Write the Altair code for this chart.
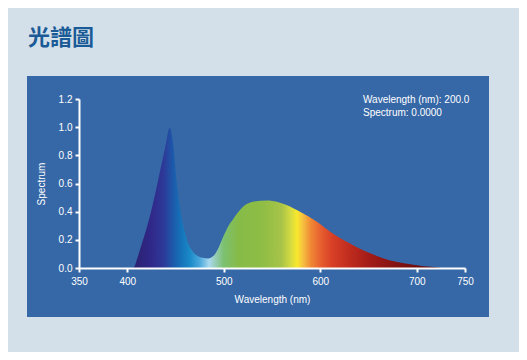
import altair as alt
import pandas as pd

# ---- data ----
wavelength = [400, 405, 407, 410, 415, 420, 425, 430, 435, 440, 442, 443, 444, 445, 446, 448,
              450, 452, 455, 460, 463, 468, 473, 478, 484, 490, 495, 500, 505, 510,
              520, 530, 545, 555, 565, 580, 595, 610, 620, 630, 640, 650, 665, 680,
              700, 715, 725]
spectrum = [0.0, 0.0, 0.005, 0.06, 0.17, 0.28, 0.41, 0.56, 0.72, 0.88, 0.955, 0.985, 0.995, 0.985, 0.955, 0.86,
            0.70, 0.56, 0.41, 0.245, 0.175, 0.115, 0.085, 0.072, 0.068, 0.09, 0.15, 0.23, 0.30, 0.35,
            0.435, 0.47, 0.48, 0.47, 0.447, 0.395, 0.335, 0.26, 0.215, 0.178, 0.14, 0.11, 0.07, 0.042,
            0.02, 0.008, 0.0]

x_ticks = [350, 400, 500, 600, 700, 750]
y_ticks = [0.0, 0.2, 0.4, 0.6, 0.8, 1.0, 1.2]

title_text = "光譜圖"
readout_lines = ["Wavelength (nm): 200.0", "Spectrum: 0.0000"]

# colour of light per wavelength (gradient stops)
stop_wl = [400, 410, 425, 438, 446, 455, 465, 475, 485, 492, 500, 515, 540, 560,
           570, 576, 582, 590, 600, 612, 630, 650, 672, 700, 725]
stop_colors = ["#2a1f6e", "#2c2274", "#30288a", "#2d3a98", "#1e55a8", "#1570b8", "#1a8ac8",
               "#4aa8dc", "#aad8ee", "#94ccb0", "#7cc070", "#86bb48", "#8fbd45", "#a8c448",
               "#d8dc40", "#f8e82c", "#f6c040", "#f08a34", "#e86030", "#d84026", "#c02c1e",
               "#a41c18", "#8a1414", "#6e0e10", "#5a0a10"]

BG = "#d4e0e9"
PANEL = "#3668a7"
TITLE_COLOR = "#1a5b97"
FONT = "Liberation Sans"

data = pd.DataFrame({"Wavelength": wavelength, "Spectrum": spectrum})
lo, hi = min(wavelength), max(wavelength)
stops = [alt.GradientStop(color=c, offset=(w - lo) / (hi - lo)) for w, c in zip(stop_wl, stop_colors)]

one = pd.DataFrame({"k": [0]})

panel = alt.Chart(one).mark_rect(color=PANEL).encode(
    x=alt.value(-52), x2=alt.value(410), y=alt.value(-23), y2=alt.value(218)
)

axis_common = dict(
    domainColor="white", tickColor="white", labelColor="white", titleColor="white",
    domainWidth=2, tickWidth=2, tickSize=4, labelFontSize=10, titleFontSize=10,
    labelFont=FONT, titleFont=FONT, titleFontWeight="normal", grid=False, zindex=1,
    labelFlush=False, labelOverlap=False,
)

area = alt.Chart(data).mark_area(
    interpolate="monotone",
    color=alt.Gradient(gradient="linear", stops=stops, x1=0, x2=1, y1=0, y2=0),
).encode(
    x=alt.X("Wavelength:Q",
            scale=alt.Scale(domain=[350, 750], nice=False, zero=False),
            axis=alt.Axis(values=x_ticks, format="d", title="Wavelength (nm)",
                          labelPadding=4, titlePadding=8, **axis_common)),
    y=alt.Y("Spectrum:Q",
            scale=alt.Scale(domain=[0, 1.2], nice=False),
            axis=alt.Axis(values=y_ticks, format=".1f", title="Spectrum",
                          labelPadding=3, titlePadding=12, **axis_common)),
)

readout1 = alt.Chart(one).mark_text(
    text=readout_lines[0], align="left", baseline="alphabetic",
    font=FONT, fontSize=10, color="white"
).encode(x=alt.value(284), y=alt.value(4))

readout2 = alt.Chart(one).mark_text(
    text=readout_lines[1], align="left", baseline="alphabetic",
    font=FONT, fontSize=10, color="white"
).encode(x=alt.value(284), y=alt.value(17))

title = alt.Chart(one).mark_text(
    text=title_text, align="left", baseline="alphabetic",
    font="Noto Sans CJK TC", fontSize=22, fontWeight="bold", color=TITLE_COLOR
).encode(x=alt.value(-51), y=alt.value(-54))

chart = alt.layer(panel, area, readout1, readout2, title).properties(
    width=386, height=169,
    padding={"left": 71, "top": 91, "right": 54, "bottom": 84},
    autosize=alt.AutoSizeParams(type="none"),
    background=BG,
).configure_view(stroke=None)

chart.save("out.html", embed_options={"renderer": "svg", "actions": False})
